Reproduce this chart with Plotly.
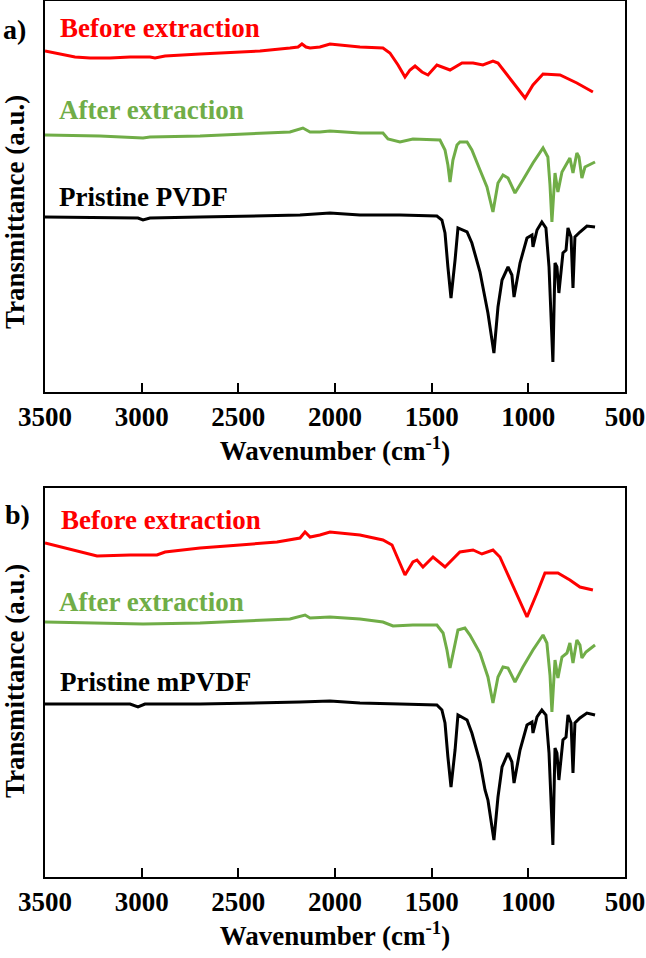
import plotly.graph_objects as go

# ---------------- Panel a) ----------------
a_before_wn = [3500, 3422, 3345, 3267, 3164, 3060, 2957, 2931, 2879, 2698, 2528, 2388, 2233, 2191, 2171, 2150,
               2129, 2078, 2026, 1974, 1871, 1752, 1716, 1674, 1638, 1612, 1586, 1550, 1519, 1473, 1405, 1343,
               1286, 1235, 1183, 1157, 1121, 1079, 1017, 976, 924, 836, 749, 666]
a_before_t = [341, 338, 335, 334, 334, 335, 335, 334, 336, 338, 340, 341, 344, 345, 348, 345,
              344, 345, 348, 347, 345, 344, 339, 327, 315, 322, 326, 320, 317, 327, 322, 329,
              329, 327, 331, 329, 320, 309, 294, 307, 318, 317, 309, 300]

a_after_wn = [3500, 3216, 2993, 2957, 2698, 2440, 2233, 2166, 2129, 2078, 2026, 1871, 1752, 1726, 1664, 1597,
              1457, 1431, 1416, 1405, 1390, 1369, 1354, 1317, 1292, 1250, 1214, 1198, 1183, 1157, 1131, 1105,
              1069, 1028, 976, 924, 899, 888, 878, 862, 847, 826, 800, 785, 769, 749, 738, 723, 707, 655]
a_after_t = [257, 256, 254, 255, 256, 258, 260, 264, 260, 260, 261, 259, 259, 253, 250, 253,
             252, 242, 227, 210, 232, 247, 250, 250, 242, 222, 205, 192, 180, 209, 217, 214,
             199, 212, 229, 244, 235, 207, 170, 219, 200, 220, 229, 234, 219, 239, 235, 214, 225, 230]

a_pristine_wn = [3500, 3216, 3019, 2993, 2957, 2698, 2388, 2181, 2026, 1871, 1664, 1473, 1447, 1431, 1416, 1400,
                 1379, 1364, 1317, 1292, 1250, 1224, 1209, 1178, 1157, 1136, 1105, 1085, 1074, 1043, 1007, 981,
                 976, 955, 930, 909, 893, 873, 862, 852, 842, 821, 805, 795, 779, 769, 759, 733, 697, 655]
a_pristine_t = [175, 174, 174, 172, 174, 175, 176, 177, 179, 177, 177, 176, 172, 159, 125, 94,
                132, 164, 160, 149, 120, 92, 79, 39, 85, 112, 125, 117, 95, 129, 154, 157,
                145, 162, 170, 164, 125, 30, 129, 125, 99, 139, 142, 164, 155, 104, 155, 160, 166, 165]

# ---------------- Panel b) ----------------
b_before_wn = [3500, 3371, 3231, 3060, 2921, 2879, 2698, 2492, 2300, 2181, 2155, 2129, 2078, 2026, 1974, 1871,
               1752, 1705, 1638, 1597, 1576, 1545, 1493, 1431, 1354, 1286, 1240, 1183, 1147, 1079, 1007, 955,
               914, 847, 785, 733, 666]
b_before_t = [334, 328, 321, 322, 322, 325, 329, 332, 335, 339, 345, 340, 342, 345, 344, 342,
              337, 332, 302, 315, 317, 310, 320, 310, 325, 327, 323, 327, 320, 290, 260, 284,
              304, 304, 297, 290, 287]

b_after_wn = [3500, 3216, 2993, 2698, 2440, 2233, 2155, 2129, 2026, 1871, 1752, 1700, 1597, 1473, 1441, 1421,
              1405, 1385, 1364, 1328, 1302, 1250, 1209, 1183, 1157, 1131, 1105, 1069, 1028, 976, 924, 904,
              888, 878, 862, 847, 826, 800, 785, 769, 749, 733, 723, 702, 655]
b_after_t = [255, 254, 253, 254, 256, 258, 262, 259, 260, 258, 255, 251, 252, 252, 244, 227,
             209, 229, 247, 249, 242, 224, 200, 174, 200, 210, 209, 195, 210, 227, 242, 234,
             202, 165, 217, 199, 220, 224, 234, 214, 237, 232, 219, 225, 232]

b_pristine_wn = [3500, 3216, 3060, 3019, 2983, 2698, 2388, 2181, 2026, 1871, 1664, 1473, 1447, 1431, 1416, 1400,
                 1379, 1364, 1317, 1292, 1250, 1224, 1209, 1178, 1157, 1136, 1105, 1085, 1074, 1043, 1007, 981,
                 976, 955, 930, 909, 893, 873, 862, 852, 842, 821, 805, 795, 779, 769, 759, 733, 697, 655]
b_pristine_t = [173, 173, 173, 170, 173, 173, 174, 175, 176, 174, 173, 172, 167, 154, 120, 90,
                127, 162, 157, 144, 115, 87, 77, 37, 80, 110, 124, 115, 94, 127, 152, 155,
                144, 160, 167, 162, 124, 32, 129, 124, 97, 137, 140, 162, 154, 104, 154, 159, 164, 162]

x_tick_vals = [3500, 3000, 2500, 2000, 1500, 1000, 500]
x_tick_text = ["3500", "3000", "2500", "2000", "1500", "1000", "500"]

RED = "#FF0000"
GREEN = "#70AD47"
BLACK = "#000000"
FONT = "Liberation Serif"
FS = 27

fig = go.Figure()

def add(wn, t, color, xa, ya):
    fig.add_trace(go.Scatter(x=wn, y=t, mode="lines", line=dict(color=color, width=3),
                             xaxis=xa, yaxis=ya, showlegend=False, hoverinfo="skip"))

add(a_before_wn, a_before_t, RED, "x", "y")
add(a_after_wn, a_after_t, GREEN, "x", "y")
add(a_pristine_wn, a_pristine_t, BLACK, "x", "y")
add(b_before_wn, b_before_t, RED, "x2", "y2")
add(b_after_wn, b_after_t, GREEN, "x2", "y2")
add(b_pristine_wn, b_pristine_t, BLACK, "x2", "y2")

xcommon = dict(range=[3500, 500], tickmode="array", tickvals=x_tick_vals, ticktext=x_tick_text,
               ticks="inside", ticklen=9, tickwidth=1.5, tickcolor="black",
               showline=True, linecolor="black", linewidth=1.5, mirror=True,
               showgrid=False, zeroline=False, automargin=False,
               tickfont=dict(family=FONT, size=FS, color="black", weight="bold"),
               title=dict(text="Wavenumber (cm<sup>-1</sup>)", standoff=5,
                          font=dict(family=FONT, size=FS, color="black", weight="bold")))
ycommon = dict(showticklabels=False, ticks="", showline=True, linecolor="black", linewidth=1.5,
               mirror=True, showgrid=False, zeroline=False, automargin=False)

H = 876.0
fig.update_layout(
    width=646, height=958,
    margin=dict(l=45, r=21, t=1, b=81),
    paper_bgcolor="white", plot_bgcolor="white",
    xaxis=dict(anchor="y", **xcommon),
    yaxis=dict(anchor="x", domain=[(877 - 392) / H, 1.0], range=[0, 391], **ycommon),
    xaxis2=dict(anchor="y2", **xcommon),
    yaxis2=dict(anchor="x2", domain=[0.0, (877 - 488) / H], range=[0, 389], **ycommon),
)

def ann(text, x, y, color, xref, yref, size=FS, xanchor="left", angle=0):
    fig.add_annotation(text=text, x=x, y=y, xref=xref, yref=yref, showarrow=False,
                       xanchor=xanchor, yanchor="middle", textangle=angle,
                       font=dict(family=FONT, size=size, color=color, weight="bold"))

ann("Before extraction", 3433, 364, RED, "x", "y")
ann("After extraction", 3438, 282, GREEN, "x", "y")
ann("Pristine PVDF", 3438, 195, BLACK, "x", "y")
ann("Before extraction", 3428, 357, RED, "x2", "y2")
ann("After extraction", 3438, 275, GREEN, "x2", "y2")
ann("Pristine mPVDF", 3433, 195, BLACK, "x2", "y2")

# panel letters and y titles (paper coords)
def px_x(px):
    return (px - 45) / 580.0
def px_y(py):
    return (877 - py) / H

ann("a)", px_x(14), px_y(30), BLACK, "paper", "paper", size=28, xanchor="center")
ann("b)", px_x(17), px_y(514), BLACK, "paper", "paper", size=28, xanchor="center")
ann("Transmittance (a.u.)", px_x(15), px_y(212), BLACK, "paper", "paper", xanchor="center", angle=-90)
ann("Transmittance (a.u.)", px_x(15), px_y(681), BLACK, "paper", "paper", xanchor="center", angle=-90)

fig.write_html("out.html", config={"displayModeBar": False},
               post_script="document.body.style.margin='0';")
